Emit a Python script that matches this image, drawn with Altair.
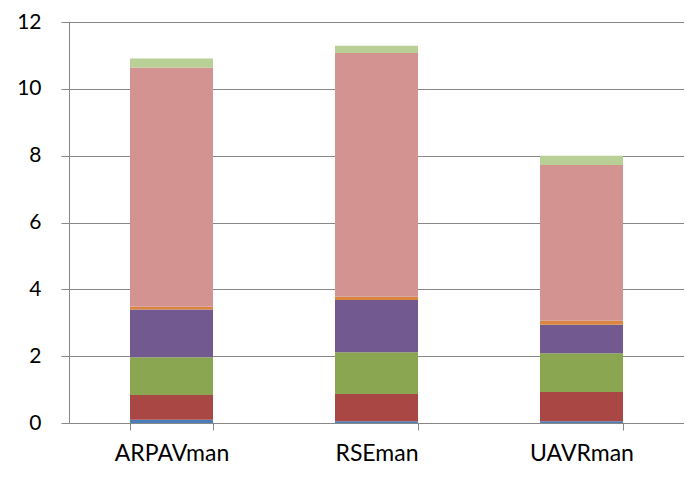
import altair as alt
import pandas as pd

categories = ["ARPAVman", "RSEman", "UAVRman"]
series = ["s1", "s2", "s3", "s4", "s5", "s6", "s7"]
colors = ["#4A7EBB", "#A94745", "#8AA650", "#725A90", "#DA8640", "#D39391", "#B8CF96"]
values = {
    "s1": [0.10, 0.05, 0.05],
    "s2": [0.74, 0.82, 0.88],
    "s3": [1.13, 1.25, 1.16],
    "s4": [1.43, 1.56, 0.85],
    "s5": [0.08, 0.10, 0.12],
    "s6": [7.16, 7.29, 4.66],
    "s7": [0.27, 0.22, 0.28],
}

rows = []
for si, s in enumerate(series):
    for ci, c in enumerate(categories):
        rows.append({"cat": c, "series": s, "value": values[s][ci], "ord": si})
df = pd.DataFrame(rows)

FONT = "Lato"

chart = (
    alt.Chart(df)
    .mark_bar()
    .encode(
        x=alt.X(
            "cat:N",
            sort=categories,
            title=None,
            scale=alt.Scale(paddingInner=0.595, paddingOuter=0.2975),
            axis=alt.Axis(
                labelAngle=0,
                tickBand="extent",
                domainColor="#888888",
                tickColor="#888888",
                tickSize=7,
                labelPadding=12,
                labelFont=FONT,
                labelFontSize=23,
                labelColor="#000000",
                grid=False,
            ),
        ),
        y=alt.Y(
            "value:Q",
            stack="zero",
            title=None,
            scale=alt.Scale(domain=[0, 12], nice=False),
            axis=alt.Axis(
                values=[0, 2, 4, 6, 8, 10, 12],
                domainColor="#888888",
                tickColor="#888888",
                tickSize=8,
                labelPadding=20,
                labelFont=FONT,
                labelFontSize=21,
                labelColor="#000000",
                gridColor="#888888",
                gridWidth=1,
            ),
        ),
        color=alt.Color(
            "series:N",
            scale=alt.Scale(domain=series, range=colors),
            legend=None,
        ),
        order=alt.Order("ord:Q", sort="ascending"),
    )
    .properties(
        width=615,
        height=401,
        autosize=alt.AutoSizeParams(type="none"),
        padding={"left": 61, "top": 14, "right": 0, "bottom": 44},
    )
    .configure_view(stroke=None)
)

chart.save("out.html", embed_options={"renderer": "svg", "actions": False})
